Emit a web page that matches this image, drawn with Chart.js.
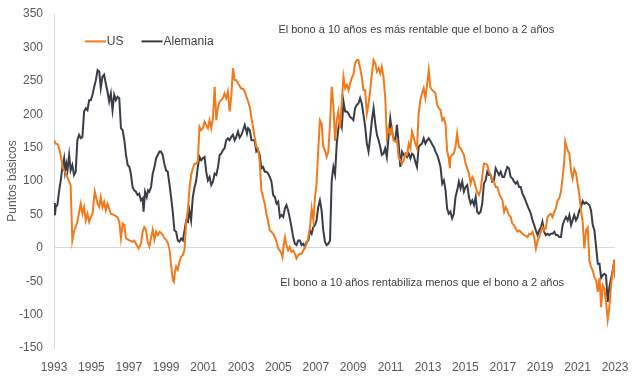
<!DOCTYPE html>
<html>
<head>
<meta charset="utf-8">
<script src="https://cdn.jsdelivr.net/npm/chart.js@4.4.1/dist/chart.umd.min.js"></script>
<style>
  html, body { margin: 0; padding: 0; background: #ffffff; }
  #wrap { width: 640px; height: 384px; }
</style>
</head>
<body>
<div id="wrap"><canvas id="chart" width="640" height="384"></canvas></div>
<script>
// diferencial 10 años - 2 años, puntos básicos
const usYear = [1993.00,1993.09,1993.20,1993.30,1993.40,1993.48,1993.63,1993.81,1993.89,1993.98,1994.07,1994.25,1994.43,1994.52,1994.61,1994.70,1994.79,1994.88,1994.97,1995.06,1995.18,1995.33,1995.42,1995.50,1995.59,1995.68,1995.77,1995.86,1996.04,1996.22,1996.40,1996.49,1996.58,1996.67,1996.76,1996.85,1997.03,1997.20,1997.29,1997.38,1997.53,1997.65,1997.74,1997.83,1997.92,1998.01,1998.10,1998.20,1998.28,1998.37,1998.46,1998.55,1998.64,1998.73,1998.82,1998.91,1999.00,1999.09,1999.18,1999.27,1999.35,1999.41,1999.46,1999.53,1999.62,1999.71,1999.80,1999.89,1999.98,2000.07,2000.16,2000.25,2000.34,2000.43,2000.51,2000.60,2000.69,2000.78,2000.87,2000.96,2001.05,2001.14,2001.23,2001.32,2001.41,2001.50,2001.59,2001.68,2001.77,2001.86,2001.94,2002.03,2002.12,2002.21,2002.30,2002.39,2002.48,2002.57,2002.66,2002.75,2002.84,2002.93,2003.02,2003.11,2003.20,2003.29,2003.38,2003.47,2003.56,2003.65,2003.73,2003.82,2003.91,2004.00,2004.09,2004.18,2004.27,2004.36,2004.45,2004.54,2004.63,2004.72,2004.81,2004.90,2004.99,2005.08,2005.17,2005.22,2005.29,2005.35,2005.43,2005.52,2005.61,2005.70,2005.79,2005.88,2005.97,2006.06,2006.15,2006.24,2006.33,2006.42,2006.51,2006.60,2006.69,2006.78,2006.87,2006.96,2007.04,2007.13,2007.22,2007.31,2007.40,2007.49,2007.58,2007.67,2007.76,2007.85,2007.94,2008.03,2008.12,2008.21,2008.30,2008.39,2008.48,2008.57,2008.66,2008.75,2008.83,2008.92,2009.01,2009.10,2009.19,2009.28,2009.37,2009.46,2009.55,2009.64,2009.73,2009.82,2009.91,2010.00,2010.09,2010.18,2010.27,2010.36,2010.45,2010.53,2010.62,2010.71,2010.80,2010.89,2010.98,2011.07,2011.16,2011.25,2011.34,2011.43,2011.52,2011.61,2011.70,2011.79,2011.88,2011.97,2012.06,2012.14,2012.23,2012.32,2012.41,2012.50,2012.59,2012.68,2012.77,2012.86,2012.95,2013.04,2013.13,2013.22,2013.31,2013.40,2013.49,2013.58,2013.67,2013.76,2013.85,2013.94,2014.02,2014.11,2014.17,2014.20,2014.29,2014.38,2014.47,2014.56,2014.65,2014.74,2014.83,2014.92,2015.01,2015.10,2015.19,2015.28,2015.37,2015.46,2015.55,2015.63,2015.72,2015.81,2015.90,2015.99,2016.08,2016.17,2016.26,2016.35,2016.44,2016.53,2016.62,2016.71,2016.80,2016.89,2016.98,2017.07,2017.16,2017.24,2017.33,2017.42,2017.51,2017.60,2017.69,2017.78,2017.87,2017.96,2018.05,2018.14,2018.23,2018.32,2018.41,2018.50,2018.59,2018.68,2018.77,2018.86,2018.95,2019.04,2019.12,2019.21,2019.30,2019.39,2019.48,2019.57,2019.66,2019.75,2019.84,2019.93,2020.02,2020.11,2020.20,2020.29,2020.34,2020.41,2020.47,2020.56,2020.65,2020.73,2020.82,2020.91,2021.00,2021.09,2021.18,2021.27,2021.36,2021.45,2021.54,2021.63,2021.72,2021.81,2021.90,2021.99,2022.04,2022.08,2022.17,2022.26,2022.34,2022.43,2022.52,2022.61,2022.70,2022.79,2022.88,2022.97,2023.00];
const usBp = [161,156,155,146,132,119,111,99,94,11,24,39,66,51,61,41,51,39,46,51,84,66,61,76,61,69,56,66,51,49,46,39,14,36,34,14,11,9,11,6,-1,6,24,31,27,9,2,17,27,12,24,19,24,22,19,14,12,7,-3,-28,-48,-51,-38,-28,-33,-21,-13,-11,-3,40,57,90,110,119,126,126,129,181,176,179,189,184,179,191,179,194,241,191,211,219,221,224,231,224,234,204,226,269,251,251,246,242,238,238,234,226,219,211,194,179,166,151,149,129,86,76,66,51,39,26,24,21,16,9,-1,-4,-9,-14,6,16,4,-4,1,-6,-4,-9,-16,-11,-9,-9,-4,1,6,16,31,59,41,76,96,146,191,186,151,146,136,144,186,241,214,160,191,204,179,219,256,239,244,236,246,254,259,276,281,281,269,256,236,236,201,216,236,261,281,276,264,269,261,271,256,226,166,179,171,179,161,159,161,136,131,126,131,141,139,156,149,174,166,156,149,201,221,231,239,224,244,266,240,236,234,231,214,209,206,191,194,184,146,134,119,136,139,141,151,171,151,149,144,139,126,119,111,96,106,101,91,84,79,86,106,126,126,124,114,109,101,99,91,91,81,76,71,54,61,56,49,46,36,34,29,24,26,24,21,19,18,16,21,20,24,16,-1,11,16,24,31,26,29,46,49,51,46,54,59,71,74,84,106,131,159,151,146,141,115,104,118,112,96,79,56,39,-1,26,30,-19,-29,-34,-44,-49,-58,-66,-45,-89,-56,-61,-81,-108,-89,-56,-34,-18,-45];

const deYear = [1993.00,1993.05,1993.09,1993.18,1993.27,1993.36,1993.45,1993.54,1993.59,1993.66,1993.72,1993.81,1993.89,1993.98,1994.07,1994.16,1994.25,1994.34,1994.43,1994.52,1994.61,1994.70,1994.79,1994.88,1994.97,1995.06,1995.15,1995.24,1995.33,1995.42,1995.50,1995.59,1995.68,1995.77,1995.86,1995.95,1996.04,1996.13,1996.22,1996.31,1996.40,1996.49,1996.58,1996.67,1996.76,1996.85,1996.94,1997.03,1997.11,1997.20,1997.29,1997.38,1997.47,1997.56,1997.65,1997.74,1997.79,1997.87,1997.96,1998.03,1998.10,1998.19,1998.28,1998.37,1998.46,1998.55,1998.64,1998.72,1998.81,1998.90,1998.99,1999.08,1999.17,1999.26,1999.35,1999.44,1999.53,1999.62,1999.71,1999.80,1999.89,1999.98,2000.07,2000.16,2000.24,2000.33,2000.42,2000.51,2000.60,2000.69,2000.78,2000.87,2000.96,2001.05,2001.14,2001.23,2001.32,2001.41,2001.50,2001.59,2001.68,2001.77,2001.86,2001.94,2002.03,2002.12,2002.21,2002.30,2002.39,2002.48,2002.57,2002.66,2002.75,2002.84,2002.93,2003.02,2003.11,2003.20,2003.25,2003.32,2003.38,2003.47,2003.56,2003.65,2003.73,2003.82,2003.91,2004.00,2004.09,2004.18,2004.27,2004.36,2004.45,2004.54,2004.63,2004.72,2004.81,2004.90,2004.99,2005.08,2005.17,2005.26,2005.35,2005.43,2005.52,2005.61,2005.70,2005.79,2005.88,2005.97,2006.06,2006.15,2006.24,2006.33,2006.42,2006.51,2006.60,2006.69,2006.78,2006.87,2006.96,2007.04,2007.13,2007.22,2007.31,2007.40,2007.49,2007.58,2007.67,2007.76,2007.85,2007.94,2008.03,2008.12,2008.21,2008.30,2008.39,2008.48,2008.57,2008.66,2008.75,2008.83,2008.92,2009.01,2009.10,2009.19,2009.28,2009.37,2009.46,2009.55,2009.64,2009.73,2009.82,2009.91,2010.00,2010.09,2010.18,2010.27,2010.36,2010.45,2010.53,2010.62,2010.71,2010.80,2010.89,2010.98,2011.07,2011.16,2011.25,2011.34,2011.43,2011.52,2011.61,2011.70,2011.79,2011.88,2011.97,2012.06,2012.14,2012.23,2012.32,2012.41,2012.50,2012.59,2012.68,2012.77,2012.86,2012.95,2013.04,2013.13,2013.22,2013.31,2013.40,2013.49,2013.58,2013.67,2013.76,2013.85,2013.94,2014.02,2014.11,2014.20,2014.29,2014.38,2014.47,2014.56,2014.65,2014.74,2014.83,2014.92,2015.01,2015.10,2015.19,2015.28,2015.37,2015.46,2015.55,2015.63,2015.72,2015.81,2015.90,2015.99,2016.08,2016.17,2016.26,2016.35,2016.44,2016.53,2016.62,2016.71,2016.80,2016.89,2016.98,2017.07,2017.16,2017.24,2017.33,2017.42,2017.51,2017.60,2017.69,2017.78,2017.87,2017.96,2018.05,2018.14,2018.23,2018.32,2018.41,2018.50,2018.59,2018.68,2018.77,2018.86,2018.95,2019.04,2019.12,2019.21,2019.30,2019.39,2019.48,2019.57,2019.66,2019.75,2019.84,2019.93,2020.02,2020.11,2020.20,2020.29,2020.38,2020.47,2020.56,2020.65,2020.73,2020.82,2020.91,2021.00,2021.09,2021.18,2021.27,2021.36,2021.45,2021.54,2021.63,2021.72,2021.81,2021.90,2021.99,2022.08,2022.17,2022.26,2022.34,2022.43,2022.52,2022.61,2022.70,2022.79,2022.88,2022.97,2023.00];
const deBp = [67,49,61,64,84,101,121,134,114,126,116,139,116,124,109,114,161,169,164,166,204,209,206,221,221,229,241,251,266,264,239,256,259,246,234,219,231,206,229,221,226,224,179,176,161,139,124,121,111,91,86,84,79,81,71,74,54,84,76,86,84,91,111,121,134,139,144,144,139,126,116,114,96,76,54,26,24,11,9,14,11,26,41,39,56,41,75,90,100,121,136,131,134,136,114,101,106,94,99,111,109,121,139,141,146,149,161,164,161,166,169,161,166,174,165,169,176,184,179,171,179,176,161,161,161,144,146,139,119,121,114,114,111,106,99,79,76,66,69,46,49,46,59,64,56,44,31,16,6,4,11,11,4,6,1,9,11,26,21,31,34,41,61,71,56,26,9,4,6,11,101,121,110,156,179,191,181,219,204,204,201,196,194,191,209,214,216,224,216,199,181,156,144,166,191,209,186,169,161,151,139,141,149,136,166,194,174,164,161,184,156,121,144,139,141,136,141,134,141,139,129,121,151,154,156,164,156,161,164,160,155,151,144,139,131,121,96,101,86,59,51,54,44,51,76,86,99,89,99,84,91,94,76,66,71,64,76,54,51,54,66,96,101,114,109,109,99,101,119,114,109,114,106,106,114,121,119,106,104,99,96,99,91,91,81,76,70,63,57,51,41,34,26,19,26,31,39,24,19,21,19,21,21,24,19,19,16,16,34,41,46,41,49,34,41,49,41,46,56,61,70,66,68,66,64,56,34,26,1,-24,-24,-45,-41,-39,-41,-81,-59,-46,-34,-18,-41];

const xTickYears = [1993,1995,1997,1999,2001,2003,2005,2007,2009,2011,2013,2015,2017,2019,2021,2023];
const seriesNames = ['US', 'Alemania'];
const seriesColors = ['#F27A1C', '#383D47'];
const noteTop = 'El bono a 10 años es más rentable que el bono a 2 años';
const noteBottom = 'El bono a 10 años rentabiliza menos que el bono a 2 años';

const FONT = "'Liberation Sans', Arial, sans-serif";
const TXT = '#595959';

function toPoints(xs, ys) {
  return xs.map((x, i) => ({x: x, y: ys[i]}));
}

// textos dentro del gráfico + leyenda
const notesPlugin = {
  id: 'notes',
  afterDraw(chart) {
    const ctx = chart.ctx;
    const xs = chart.scales.x, ys = chart.scales.y;
    ctx.save();
    ctx.font = '11px ' + FONT;
    ctx.fillStyle = '#404040';
    ctx.textBaseline = 'middle';
    ctx.textAlign = 'left';
    ctx.fillText(noteTop, xs.getPixelForValue(2005.0), ys.getPixelForValue(326));
    ctx.fillText(noteBottom, xs.getPixelForValue(2005.1), ys.getPixelForValue(-53));

    // leyenda
    ctx.font = '12px ' + FONT;
    let lx = xs.getPixelForValue(1994.65);
    const ly = ys.getPixelForValue(309);
    chart.data.datasets.forEach(ds => {
      ctx.strokeStyle = ds.borderColor;
      ctx.lineWidth = 2;
      ctx.beginPath();
      ctx.moveTo(lx, ly);
      ctx.lineTo(lx + 21, ly);
      ctx.stroke();
      ctx.fillStyle = '#404040';
      ctx.fillText(ds.label, lx + 22, ly);
      lx += 22 + ctx.measureText(ds.label).width + 18;
    });
    ctx.restore();
  }
};

new Chart(document.getElementById('chart'), {
  type: 'line',
  data: {
    datasets: [
      {label: seriesNames[0], data: toPoints(usYear, usBp), borderColor: seriesColors[0]},
      {label: seriesNames[1], data: toPoints(deYear, deBp), borderColor: seriesColors[1]}
    ]
  },
  options: {
    responsive: false,
    animation: false,
    devicePixelRatio: 1,
    layout: {padding: {top: 14, right: 25, left: 0, bottom: 0}},
    elements: {
      line: {borderWidth: 2, tension: 0},
      point: {radius: 0}
    },
    plugins: {legend: {display: false}, tooltip: {enabled: false}},
    scales: {
      x: {
        type: 'linear',
        min: 1993,
        max: 2023,
        afterBuildTicks: s => { s.ticks = xTickYears.map(v => ({value: v})); },
        afterFit: s => { s.height = 36; },
        grid: {display: false},
        border: {display: false},
        ticks: {
          autoSkip: false, maxRotation: 0, padding: 4,
          color: TXT, font: {family: FONT, size: 12},
          callback: v => String(v)
        }
      },
      y: {
        min: -150,
        max: 350,
        afterFit: s => { s.width = 54; s.paddingTop = 0; s.paddingBottom = 0; },
        grid: {
          drawTicks: false,
          color: c => (c.tick && c.tick.value === 0) ? '#D9D9D9' : 'rgba(0,0,0,0)'
        },
        border: {display: true, color: '#D9D9D9'},
        ticks: {stepSize: 50, padding: 11, color: TXT, font: {family: FONT, size: 12}},
        title: {
          display: true, text: 'Puntos básicos',
          color: TXT, font: {family: FONT, size: 12},
          padding: {top: 5, bottom: 0}
        }
      }
    }
  },
  plugins: [notesPlugin]
});
</script>
</body>
</html>
